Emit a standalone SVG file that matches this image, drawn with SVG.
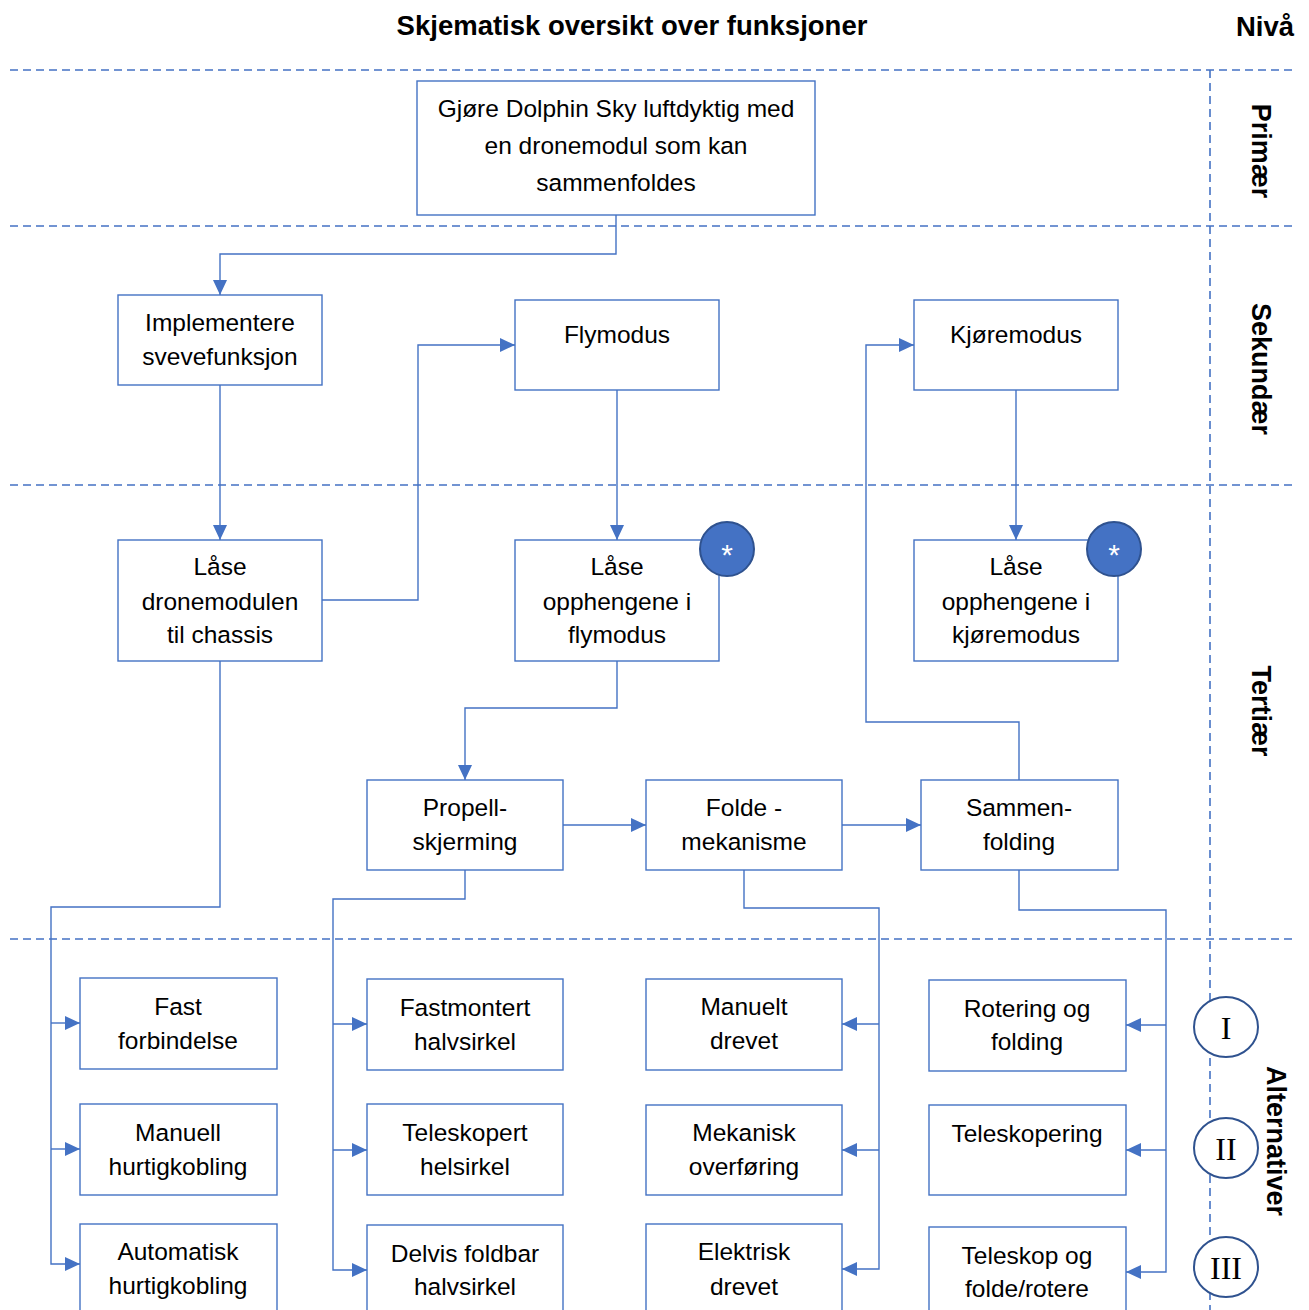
<svg xmlns="http://www.w3.org/2000/svg" width="1309" height="1310" viewBox="0 0 1309 1310">
  <style>
    .box { fill: #ffffff; stroke: #4472c4; stroke-width: 1.4; }
    .lbl { font-family: "Liberation Sans", Arial, sans-serif; font-size: 24.5px; fill: #000000; text-anchor: middle; }
    .title { font-family: "Liberation Sans", Arial, sans-serif; font-size: 27.5px; font-weight: bold; fill: #000000; }
    .level { font-family: "Liberation Sans", Arial, sans-serif; font-size: 27px; font-weight: bold; fill: #000000; text-anchor: middle; }
    .grid { stroke: #4472c4; stroke-width: 1.6; stroke-dasharray: 8 5; fill: none; }
    .conn { stroke: #4472c4; stroke-width: 1.4; fill: none; }
    .badge { fill: #4472c4; stroke: #2f528f; stroke-width: 2; }
    .badge-t { font-family: "Liberation Sans", Arial, sans-serif; font-size: 30px; fill: #ffffff; text-anchor: middle; }
    .roman { fill: #ffffff; stroke: #2f528f; stroke-width: 2; }
    .roman-t { font-family: "Liberation Serif", "Times New Roman", serif; font-size: 32px; fill: #000000; text-anchor: middle; }
  </style>
  <defs>
    <marker id="arr" viewBox="0 0 15 14" refX="15" refY="7" markerWidth="15" markerHeight="14" orient="auto" markerUnits="userSpaceOnUse">
      <path d="M0,0 L15,7 L0,14 z" fill="#4472c4"/>
    </marker>
  </defs>

  <rect width="1309" height="1310" fill="#ffffff"/>

  <!-- headings -->
  <text class="title" x="632" y="35" text-anchor="middle">Skjematisk oversikt over funksjoner</text>
  <text class="title" x="1294" y="36" text-anchor="end">Nivå</text>

  <!-- level grid -->
  <g id="grid">
    <line class="grid" x1="10" y1="70" x2="1295" y2="70"/>
    <line class="grid" x1="10" y1="226" x2="1295" y2="226"/>
    <line class="grid" x1="10" y1="485" x2="1295" y2="485"/>
    <line class="grid" x1="10" y1="939" x2="1295" y2="939"/>
    <line class="grid" x1="1210" y1="70" x2="1210" y2="1310"/>
  </g>

  <!-- level names -->
  <g id="levels">
    <text class="level" transform="translate(1252,151) rotate(90)">Primær</text>
    <text class="level" transform="translate(1252,369) rotate(90)">Sekundær</text>
    <text class="level" transform="translate(1252,711) rotate(90)">Tertiær</text>
    <text class="level" transform="translate(1267,1141) rotate(90)">Alternativer</text>
  </g>

  <!-- connectors -->
  <g id="connectors" class="conn">
    <path d="M616,215 V254 H220 V295" marker-end="url(#arr)"/>
    <path d="M220,385 V540" marker-end="url(#arr)"/>
    <path d="M322,600 H418 V345 H515" marker-end="url(#arr)"/>
    <path d="M617,390 V540" marker-end="url(#arr)"/>
    <path d="M1016,390 V540" marker-end="url(#arr)"/>
    <path d="M617,661 V708 H465 V780" marker-end="url(#arr)"/>
    <path d="M563,825 H646" marker-end="url(#arr)"/>
    <path d="M842,825 H921" marker-end="url(#arr)"/>
    <path d="M1019,780 V722 H866 V345 H914" marker-end="url(#arr)"/>

    <path d="M220,661 V907 H51 V1264 H80" marker-end="url(#arr)"/>
    <path d="M51,1023 H80" marker-end="url(#arr)"/>
    <path d="M51,1149 H80" marker-end="url(#arr)"/>

    <path d="M465,870 V899 H333 V1270 H367" marker-end="url(#arr)"/>
    <path d="M333,1024 H367" marker-end="url(#arr)"/>
    <path d="M333,1150 H367" marker-end="url(#arr)"/>

    <path d="M744,870 V908 H879 V1269 H842" marker-end="url(#arr)"/>
    <path d="M879,1024 H842" marker-end="url(#arr)"/>
    <path d="M879,1150 H842" marker-end="url(#arr)"/>

    <path d="M1019,870 V910 H1166 V1272 H1126" marker-end="url(#arr)"/>
    <path d="M1166,1025 H1126" marker-end="url(#arr)"/>
    <path d="M1166,1150 H1126" marker-end="url(#arr)"/>
  </g>

  <!-- primary -->
  <g id="n-primary">
    <rect class="box" x="417" y="81" width="398" height="134"/>
    <text class="lbl" x="616" y="117">Gjøre Dolphin Sky luftdyktig med</text>
    <text class="lbl" x="616" y="154">en dronemodul som kan</text>
    <text class="lbl" x="616" y="191">sammenfoldes</text>
  </g>

  <!-- secondary -->
  <g id="n-sveve">
    <rect class="box" x="118" y="295" width="204" height="90"/>
    <text class="lbl" x="220" y="331">Implementere</text>
    <text class="lbl" x="220" y="365">svevefunksjon</text>
  </g>
  <g id="n-flymodus">
    <rect class="box" x="515" y="300" width="204" height="90"/>
    <text class="lbl" x="617" y="343">Flymodus</text>
  </g>
  <g id="n-kjoremodus">
    <rect class="box" x="914" y="300" width="204" height="90"/>
    <text class="lbl" x="1016" y="343">Kjøremodus</text>
  </g>

  <!-- tertiary -->
  <g id="n-lase-chassis">
    <rect class="box" x="118" y="540" width="204" height="121"/>
    <text class="lbl" x="220" y="575">Låse</text>
    <text class="lbl" x="220" y="610">dronemodulen</text>
    <text class="lbl" x="220" y="643">til chassis</text>
  </g>
  <g id="n-lase-fly">
    <rect class="box" x="515" y="540" width="204" height="121"/>
    <text class="lbl" x="617" y="575">Låse</text>
    <text class="lbl" x="617" y="610">opphengene i</text>
    <text class="lbl" x="617" y="643">flymodus</text>
    <circle class="badge" cx="727" cy="549" r="27"/>
    <text class="badge-t" x="727" y="565">*</text>
  </g>
  <g id="n-lase-kjore">
    <rect class="box" x="914" y="540" width="204" height="121"/>
    <text class="lbl" x="1016" y="575">Låse</text>
    <text class="lbl" x="1016" y="610">opphengene i</text>
    <text class="lbl" x="1016" y="643">kjøremodus</text>
    <circle class="badge" cx="1114" cy="549" r="27"/>
    <text class="badge-t" x="1114" y="565">*</text>
  </g>
  <g id="n-propell">
    <rect class="box" x="367" y="780" width="196" height="90"/>
    <text class="lbl" x="465" y="816">Propell-</text>
    <text class="lbl" x="465" y="850">skjerming</text>
  </g>
  <g id="n-folde">
    <rect class="box" x="646" y="780" width="196" height="90"/>
    <text class="lbl" x="744" y="816">Folde -</text>
    <text class="lbl" x="744" y="850">mekanisme</text>
  </g>
  <g id="n-sammen">
    <rect class="box" x="921" y="780" width="197" height="90"/>
    <text class="lbl" x="1019" y="816">Sammen-</text>
    <text class="lbl" x="1019" y="850">folding</text>
  </g>

  <!-- alternatives: column 1 -->
  <g id="a-fast">
    <rect class="box" x="80" y="978" width="197" height="91"/>
    <text class="lbl" x="178" y="1015">Fast</text>
    <text class="lbl" x="178" y="1049">forbindelse</text>
  </g>
  <g id="a-manuell">
    <rect class="box" x="80" y="1104" width="197" height="91"/>
    <text class="lbl" x="178" y="1141">Manuell</text>
    <text class="lbl" x="178" y="1175">hurtigkobling</text>
  </g>
  <g id="a-automatisk">
    <rect class="box" x="80" y="1224" width="197" height="100"/>
    <text class="lbl" x="178" y="1260">Automatisk</text>
    <text class="lbl" x="178" y="1294">hurtigkobling</text>
  </g>

  <!-- alternatives: column 2 -->
  <g id="a-fastmontert">
    <rect class="box" x="367" y="979" width="196" height="91"/>
    <text class="lbl" x="465" y="1016">Fastmontert</text>
    <text class="lbl" x="465" y="1050">halvsirkel</text>
  </g>
  <g id="a-teleskopert">
    <rect class="box" x="367" y="1104" width="196" height="91"/>
    <text class="lbl" x="465" y="1141">Teleskopert</text>
    <text class="lbl" x="465" y="1175">helsirkel</text>
  </g>
  <g id="a-delvis">
    <rect class="box" x="367" y="1225" width="196" height="100"/>
    <text class="lbl" x="465" y="1262">Delvis foldbar</text>
    <text class="lbl" x="465" y="1295">halvsirkel</text>
  </g>

  <!-- alternatives: column 3 -->
  <g id="a-manuelt">
    <rect class="box" x="646" y="979" width="196" height="91"/>
    <text class="lbl" x="744" y="1015">Manuelt</text>
    <text class="lbl" x="744" y="1049">drevet</text>
  </g>
  <g id="a-mekanisk">
    <rect class="box" x="646" y="1105" width="196" height="90"/>
    <text class="lbl" x="744" y="1141">Mekanisk</text>
    <text class="lbl" x="744" y="1175">overføring</text>
  </g>
  <g id="a-elektrisk">
    <rect class="box" x="646" y="1224" width="196" height="100"/>
    <text class="lbl" x="744" y="1260">Elektrisk</text>
    <text class="lbl" x="744" y="1295">drevet</text>
  </g>

  <!-- alternatives: column 4 -->
  <g id="a-rotering">
    <rect class="box" x="929" y="980" width="197" height="91"/>
    <text class="lbl" x="1027" y="1017">Rotering og</text>
    <text class="lbl" x="1027" y="1050">folding</text>
  </g>
  <g id="a-teleskopering">
    <rect class="box" x="929" y="1105" width="197" height="90"/>
    <text class="lbl" x="1027" y="1142">Teleskopering</text>
  </g>
  <g id="a-teleskop">
    <rect class="box" x="929" y="1227" width="197" height="100"/>
    <text class="lbl" x="1027" y="1264">Teleskop og</text>
    <text class="lbl" x="1027" y="1297">folde/rotere</text>
  </g>

  <!-- alternative numbering -->
  <g id="alt-I">
    <ellipse class="roman" cx="1226" cy="1027" rx="32" ry="30"/>
    <text class="roman-t" x="1226" y="1039">I</text>
  </g>
  <g id="alt-II">
    <ellipse class="roman" cx="1226" cy="1148" rx="32" ry="30"/>
    <text class="roman-t" x="1226" y="1160">II</text>
  </g>
  <g id="alt-III">
    <ellipse class="roman" cx="1226" cy="1267" rx="32" ry="30"/>
    <text class="roman-t" x="1226" y="1279">III</text>
  </g>
</svg>
